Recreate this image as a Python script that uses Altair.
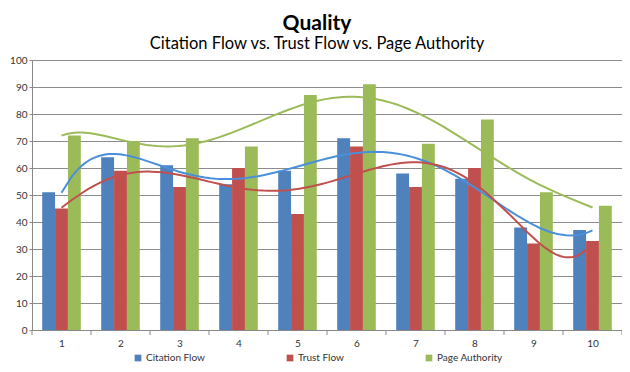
import altair as alt
import pandas as pd

categories = [1, 2, 3, 4, 5, 6, 7, 8, 9, 10]
citation_flow = [51, 64, 61, 54, 59, 71, 58, 56, 38, 37]
trust_flow = [45, 59, 53, 60, 43, 68, 53, 60, 32, 33]
page_authority = [72, 70, 71, 68, 87, 91, 69, 78, 51, 46]
series_names = ["Citation Flow", "Trust Flow", "Page Authority"]
bar_colors = ["#4F81BD", "#C0504D", "#9BBB59"]
line_colors = ["#4A8FDB", "#C0504D", "#9BBB59"]
tick_bounds = [c - 0.5 for c in categories] + [categories[-1] + 0.5]
y_ticks = list(range(0, 101, 10))

rows = []
for i, (name, vals) in enumerate(zip(series_names, [citation_flow, trust_flow, page_authority])):
    for c, v in zip(categories, vals):
        rows.append({"cat": c, "value": v, "series": name, "idx": i})
df = pd.DataFrame(rows)

BW = 0.218
FONT = "Lato"
W, H = 590, 270

xscale = alt.Scale(domain=[0.5, 10.5], nice=False, zero=False)
yscale = alt.Scale(domain=[0, 100], nice=False)
xaxis = alt.Axis(values=categories, ticks=False, grid=False, title=None,
                 labelFont=FONT, labelFontSize=10, labelColor="#333333",
                 labelPadding=8, domainColor="#888888", format="d")
yaxis = alt.Axis(values=y_ticks, title=None, grid=True,
                 gridColor="#8C8C8C", gridWidth=1, tickSize=3,
                 tickColor="#888888", domainColor="#888888",
                 labelFont=FONT, labelFontSize=10, labelColor="#333333",
                 labelPadding=2)

base = alt.Chart(df)

bars = base.transform_calculate(
    x0=f"datum.cat + (datum.idx - 1.5) * {BW}",
    x1=f"datum.cat + (datum.idx - 0.5) * {BW}",
).mark_bar(strokeWidth=0).encode(
    x=alt.X("x0:Q", scale=xscale, axis=xaxis),
    x2="x1:Q",
    y=alt.Y("value:Q", scale=yscale, axis=yaxis),
    y2=alt.datum(0),
    color=alt.Color("series:N", scale=alt.Scale(domain=series_names, range=bar_colors),
                    sort=series_names,
                    legend=alt.Legend(title=None, orient="none", direction="horizontal",
                                      legendX=101, legendY=293, symbolType="square",
                                      symbolSize=45, symbolStrokeWidth=0,
                                      labelFont=FONT, labelFontSize=10,
                                      labelColor="#333333", gridAlign="none",
                                      columnPadding=80, labelOffset=3, padding=0)),
)

lines = base.transform_regression(
    "cat", "value", method="poly", order=6, groupby=["series"]
).mark_line(strokeWidth=2).encode(
    x=alt.X("cat:Q", scale=xscale, axis=xaxis),
    y=alt.Y("value:Q", scale=yscale, axis=yaxis),
    stroke=alt.Stroke("series:N", scale=alt.Scale(domain=series_names, range=line_colors),
                      legend=None),
)

ticks = alt.Chart(pd.DataFrame({"b": tick_bounds})).mark_rule(
    color="#888888", strokeWidth=1
).encode(
    x=alt.X("b:Q", scale=xscale, axis=xaxis),
    y=alt.value(H),
    y2=alt.value(H + 5),
)

chart = alt.layer(bars, lines, ticks).resolve_scale(
    color="independent", stroke="independent"
).properties(
    width=W, height=H,
    padding={"left": 24, "top": 52, "right": 0, "bottom": 34},
    autosize=alt.AutoSizeParams(type="none"),
    title=alt.TitleParams(
        text="Quality",
        subtitle="Citation Flow vs. Trust Flow vs. Page Authority",
        font=FONT, fontSize=21, fontWeight="bold", color="#000000",
        subtitleFont=FONT, subtitleFontSize=16.5, subtitleColor="#000000",
        subtitlePadding=2, anchor="middle", dx=-10, offset=3,
    ),
).configure_view(stroke=None).configure(background="white")

chart.save("out.html", embed_options={"renderer": "svg", "actions": False})
